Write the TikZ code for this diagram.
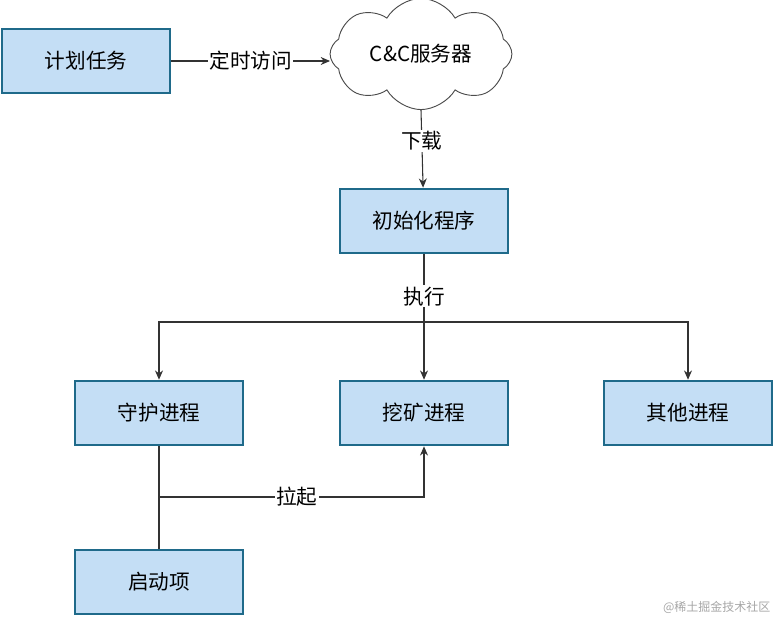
\documentclass[tikz,border=0pt]{standalone}
\usepackage{fontspec}
\newfontfamily\cjk{Noto Sans CJK SC}
\usetikzlibrary{shapes.symbols,arrows.meta}
\definecolor{boxfill}{HTML}{C4DEF5}
\definecolor{boxline}{HTML}{1F6A8A}
\begin{document}
\begin{tikzpicture}[x=0.0264cm,y=-0.0264cm,
		font=\cjk\fontsize{15.5}{18}\selectfont,
		box/.style={draw=boxline,line width=1.6pt,fill=boxfill,minimum width=4.45cm,minimum height=1.7cm},
		link/.style={draw=black!80,line width=0.8pt,-{Stealth[length=7pt,width=6pt]}},
		lbl/.style={fill=white,inner sep=1pt}]
		\useasboundingbox (0,0) rectangle (779,622);
		\node [box] (plan) at (86,61) {计划任务};
		\node [cloud,draw=black!70,line width=0.7pt,cloud puffs=8,cloud puff arc=120,aspect=1.9,minimum width=4.8cm,minimum height=2.5cm] (cc) at (421,54) {C\&C服务器};
		\node [box] (init) at (424,221) {初始化程序};
		\node [box] (guard) at (159,413) {守护进程};
		\node [box] (mine) at (424,413) {挖矿进程};
		\node [box] (other) at (688,413) {其他进程};
		\node [box] (boot) at (159,582) {启动项};
		\coordinate (split) at (424,322);
		\coordinate (pull) at (159,497);
		\coordinate (hit) at (330,61);
		\draw [link] (plan) -- node [lbl] {定时访问} (hit);
		\draw [link] (cc.south) -- node [lbl,pos=0.4] {下载} (init);
		\draw [draw=black!80,line width=0.8pt] (init) -- node [lbl,pos=0.62] {执行} (split);
		\draw [link] (split) -| (guard);
		\draw [link] (split) -- (mine);
		\draw [link] (split) -| (other);
		\draw [draw=black!80,line width=0.8pt] (boot) -- (guard);
		\draw [link] (pull) -| node [pos=0.26,lbl] {拉起} (mine);
		\node [text=black!35,font=\cjk\fontsize{9}{10}\selectfont,anchor=east] (mark) at (775,607) {@稀土掘金技术社区};
	\end{tikzpicture}
\end{document}
